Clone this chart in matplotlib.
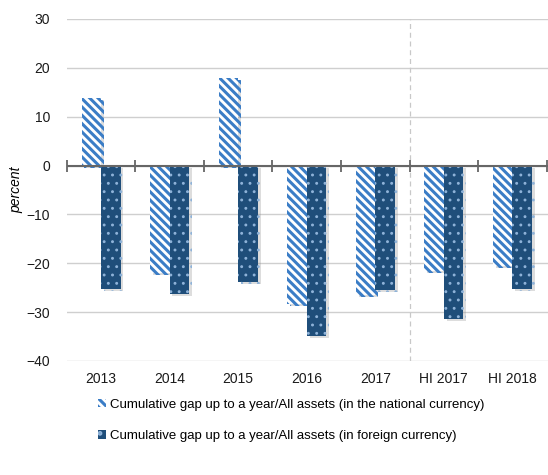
import matplotlib
matplotlib.use("Agg")
import matplotlib.pyplot as plt
import matplotlib.patheffects as pe
from matplotlib.patches import Patch
import numpy as np

plt.rcParams['font.family'] = ['Liberation Sans', 'DejaVu Sans']
plt.rcParams['hatch.linewidth'] = 2.2

categories = ["2013", "2014", "2015", "2016", "2017", "HI 2017", "HI 2018"]
national = [13.9, -21.9, 17.9, -28.4, -26.5, -21.5, -20.6]
foreign = [-25.3, -26.3, -23.9, -34.9, -25.5, -31.4, -25.3]
labels = ["Cumulative gap up to a year/All assets (in the national currency)",
          "Cumulative gap up to a year/All assets (in foreign currency)"]

fig = plt.figure(figsize=(5.48, 4.75), dpi=100)
ax = fig.add_axes([0.122, 0.24, 0.878, 0.72])

x = np.arange(len(categories))
w = 0.285
shadow = [pe.SimplePatchShadow(offset=(2, -1.5), shadow_rgbFace='#909090', alpha=0.3), pe.Normal()]

b1 = ax.bar(x - w/2, national, w, facecolor='white', edgecolor='#3B7DC6',
            hatch='\\\\\\\\', linewidth=0, zorder=3)
b2 = ax.bar(x + w/2, foreign, w, facecolor='#1F4E7A', edgecolor='#8FB3D9',
            hatch='..', linewidth=0, zorder=3)
for p in list(b1) + list(b2):
    p.set_path_effects(shadow)
for p in b2:
    if hasattr(p, 'set_hatch_linewidth'):
        p.set_hatch_linewidth(0.9)

ax.set_ylim(-40, 30)
ax.set_yticks(np.arange(-40, 31, 10))
ax.set_xlim(-0.5, len(categories) - 0.5 + 0.02)
ax.grid(axis='y', color='#cfcfcf', linewidth=1, zorder=0)
ax.set_axisbelow(True)
for s in ax.spines.values():
    s.set_visible(False)
ax.axhline(0, color='#666666', linewidth=1.5, zorder=4)
bounds = np.arange(len(categories) + 1) - 0.5
ax.plot(bounds, np.zeros_like(bounds), linestyle='none', marker='|',
        markersize=8, markeredgewidth=1.3, color='#666666', zorder=4, clip_on=False)
ax.axvline(4.5, color='#c8c8c8', linestyle=(0, (4, 3)), linewidth=0.9, zorder=1)

ax.set_xticks(x)
ax.set_xticklabels(categories)
ax.tick_params(axis='both', length=0, labelsize=10, colors='#1a1a1a', pad=8)
ax.tick_params(axis='y', pad=12)
ax.set_ylabel("percent", style='italic', fontsize=10, labelpad=2)

h1 = Patch(facecolor='white', edgecolor='#3B7DC6', hatch='\\\\\\\\', linewidth=0)
h2 = Patch(facecolor='#1F4E7A', edgecolor='#8FB3D9', hatch='..', linewidth=0)
fig.legend(handles=[h1, h2], labels=labels, loc='upper left',
           bbox_to_anchor=(0.158, 0.186), frameon=False, fontsize=9.5,
           handlelength=0.6, handleheight=0.6, handletextpad=0.3, labelspacing=1.5)

fig.savefig("out.png", dpi=100)
